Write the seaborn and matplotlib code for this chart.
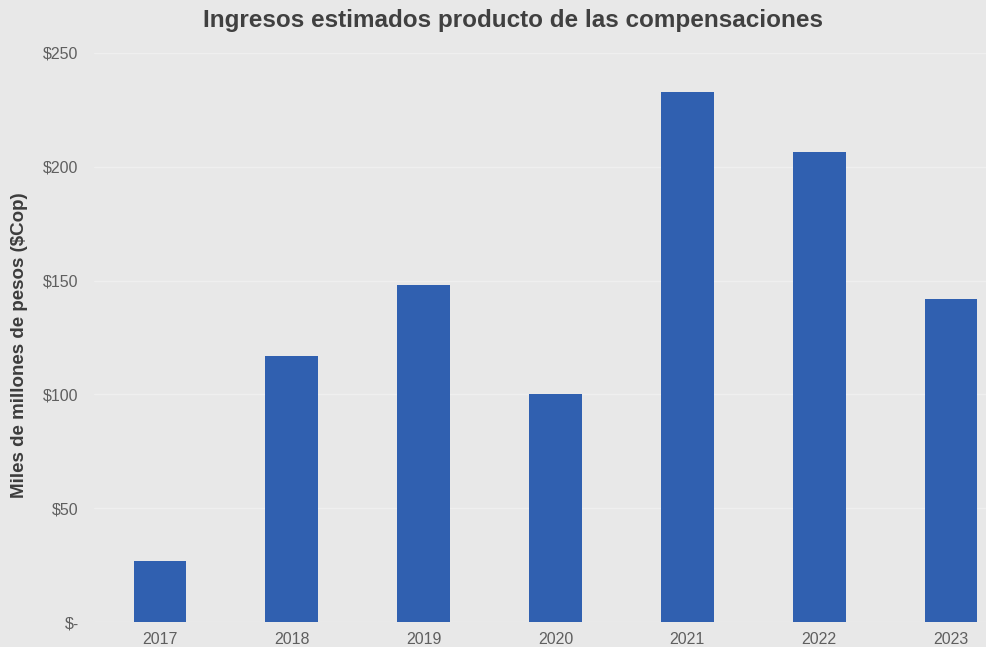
from matplotlib import pyplot as plt
from matplotlib.ticker import FuncFormatter
import seaborn as sns
import pandas as pd

years = ["2017", "2018", "2019", "2020", "2021", "2022", "2023"]
ingresos = [27, 117, 148, 100, 233, 206.5, 142]
y_ticks = [0, 50, 100, 150, 200, 250]

bg = "#e8e8e8"
bar_color = "#3060b0"

sns.set_theme(style="white")
plt.rcParams["font.family"] = ["Liberation Sans", "DejaVu Sans"]

df = pd.DataFrame({"Año": years, "Ingresos": ingresos})

fig = plt.figure(figsize=(9.86, 6.47), dpi=100, facecolor=bg)
ax = fig.add_axes([94 / 986, 25 / 647, (1017 - 94) / 986, (622 - 53) / 647])
ax.set_facecolor(bg)

sns.barplot(data=df, x="Año", y="Ingresos", color=bar_color, width=0.4,
            saturation=1, linewidth=0, ax=ax, zorder=3)

ax.set_ylim(0, 250)
ax.set_yticks(y_ticks)


def money(v, pos):
    if v == 0:
        return r"\$-"
    return r"\$%d" % v


ax.yaxis.set_major_formatter(FuncFormatter(money))
ax.grid(axis="y", color="#efefef", linewidth=1, zorder=0)
for s in ax.spines.values():
    s.set_visible(False)
ax.tick_params(axis="both", length=0, colors="#5f5f5f", labelsize=11.5)
ax.tick_params(axis="y", pad=11)
ax.tick_params(axis="x", pad=7)

ax.set_xlabel("")
ax.set_ylabel("")
fig.text(20 / 986, 1 - 345 / 647, "Miles de millones de pesos ($Cop)",
         rotation=90, ha="center", va="center", fontsize=13.5,
         fontweight="bold", color="#3c3c3c")

fig.text(513 / 986, 1 - 20 / 647, "Ingresos estimados producto de las compensaciones",
         ha="center", va="center", fontsize=17.5, fontweight="bold", color="#404040")

fig.savefig("out.png", dpi=100, facecolor=bg)
